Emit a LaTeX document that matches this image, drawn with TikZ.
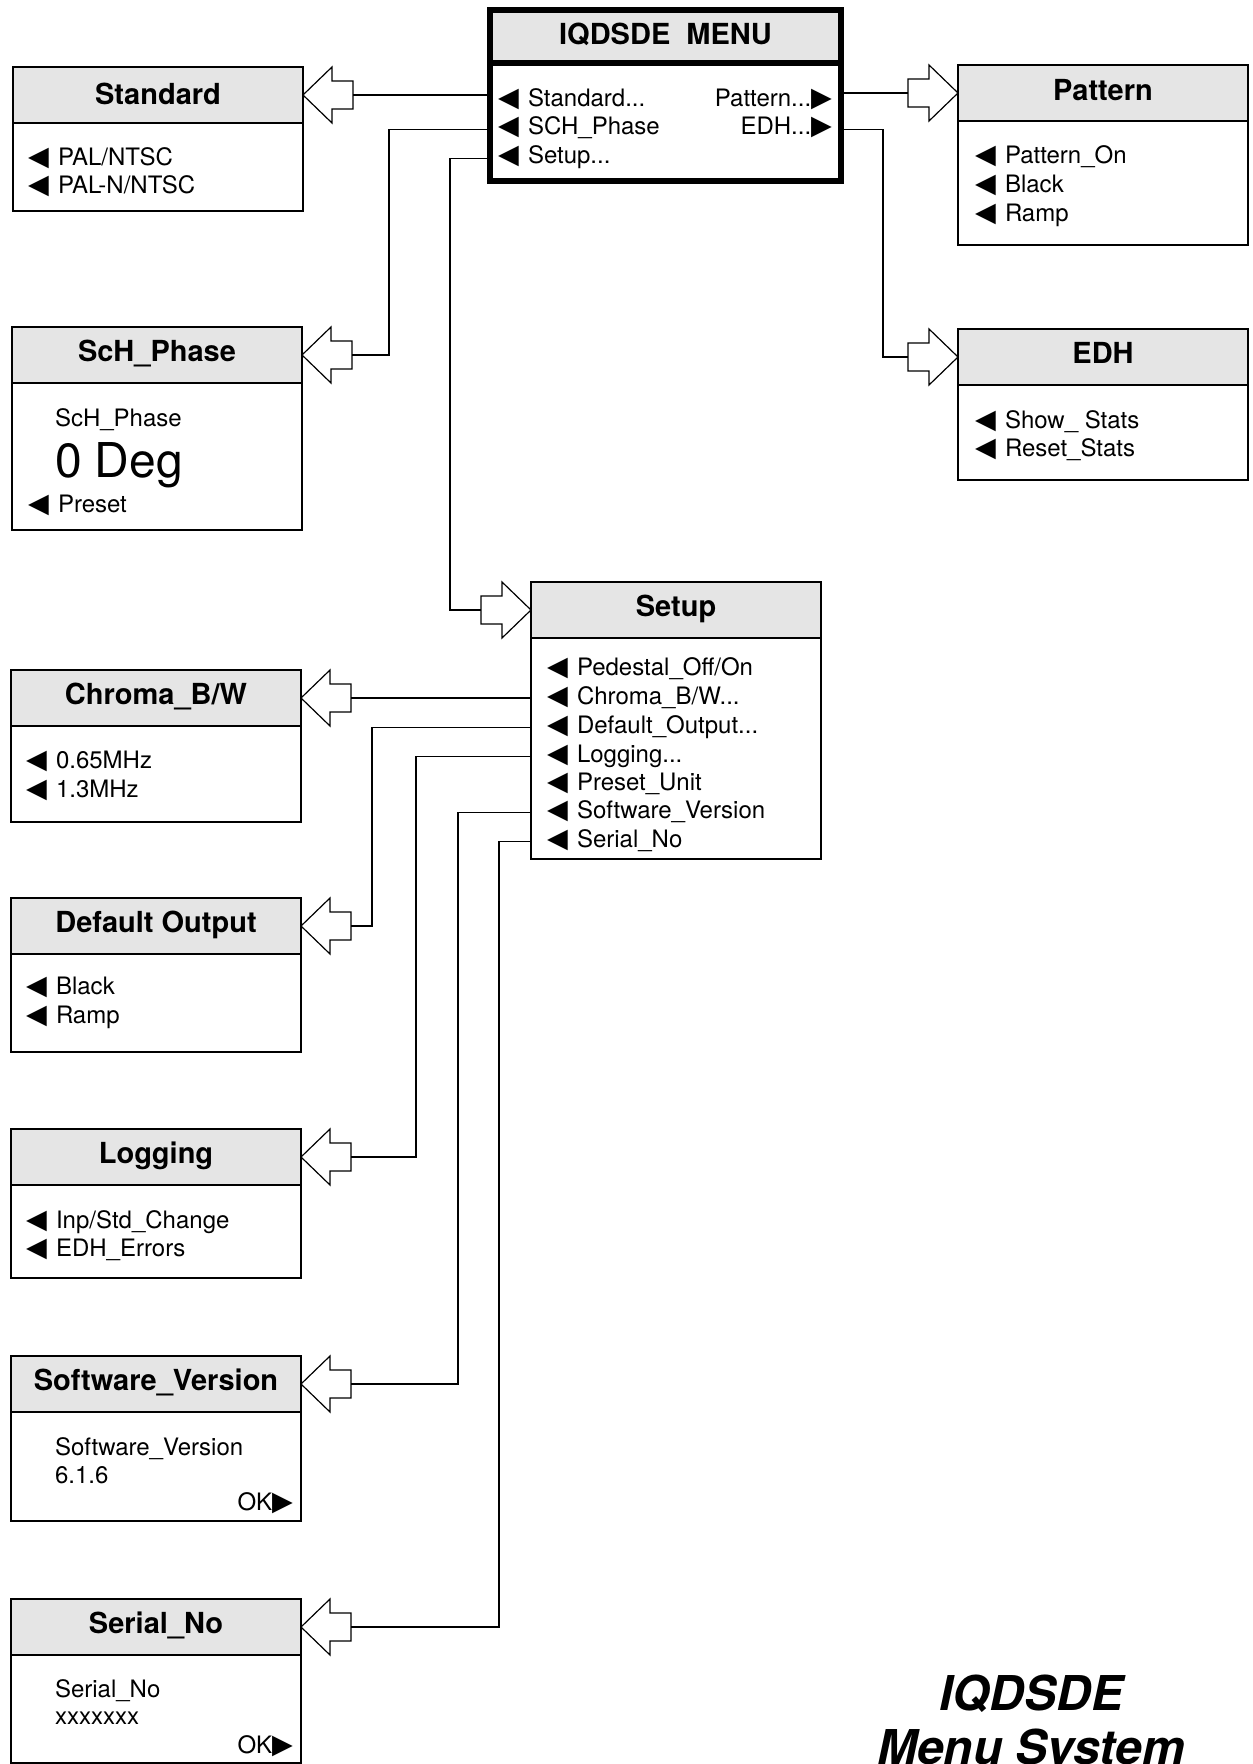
\documentclass[tikz,border=0pt]{standalone}
\usepackage{fontspec}
\usepackage{tikz}
\setmainfont{TeX Gyre Heros}
\newfontfamily\symfont{DejaVu Sans}

\newcommand{\headfont}{\fontsize{14.5}{17}\selectfont\bfseries}
\newcommand{\rowfont}{\fontsize{12}{14}\selectfont}
\newcommand{\titlefont}{\fontsize{24}{29}\selectfont\bfseries\itshape}
\newcommand{\menuL}{\makebox[15pt][l]{\symfont\fontsize{13.5}{13.5}\selectfont ◀}}
\newcommand{\menuR}{{\symfont\fontsize{13.5}{13.5}\selectfont ▶}}

\tikzset{
  inarrow/.pic={
    \draw[fill=white, line width=0.6pt] (0,0) -- (29,-28) -- (29,-14) -- (50,-14)
      -- (50,14) -- (29,14) -- (29,28) -- cycle;
    \coordinate (-tail) at (50,0);
  }
}

\begin{document}
\begin{tikzpicture}[
		x=0.5pt, y=-0.5pt,
		every node/.style={inner sep=0pt, outer sep=0pt},
		head/.style={draw, line width=0.6pt, fill=black!10, anchor=north west,
			minimum width=145pt, minimum height=28pt, font=\headfont,
			text height=10.4pt, text depth=4pt},
		body/.style={draw, line width=0.6pt, anchor=north west, minimum width=145pt},
		row/.style={anchor=base west, font=\rowfont},
		rrow/.style={anchor=base east, font=\rowfont},
		link/.style={line width=0.6pt}
	]
  \useasboundingbox (0,0) rectangle (1252,1764);

  \node (menu-h) [head, line width=2.6pt, minimum width=175.5pt, minimum height=26.5pt, text depth=2pt] at (490,10) {IQDSDE~~MENU};
  \node (menu-b) [body, line width=2.6pt, minimum width=175.5pt, minimum height=59pt] at (menu-h.south west) {};
  \node (m-std) [row] at (498,107) {\menuL Standard...};
  \node (m-sch) [row] at (498,135) {\menuL SCH\_Phase};
  \node (m-set) [row] at (498,164) {\menuL Setup...};
  \node (m-pat) [rrow] at (832,107) {Pattern...\menuR};
  \node (m-edh) [rrow] at (832,135) {EDH...\menuR};

  \node (std-h) [head, text depth=0.5pt] at (13,67) {Standard};
  \node (std-b) [body, minimum height=44pt] at (std-h.south west) {};
  \node (std-1) [row] at (28,166) {\menuL PAL/NTSC};
  \node (std-2) [row] at (28,194) {\menuL PAL-N/NTSC};

  \node (sch-h) [head] at (12,327) {ScH\_Phase};
  \node (sch-b) [body, minimum height=73.5pt] at (sch-h.south west) {};
  \node (sch-1) [row] at (55,427) {ScH\_Phase};
  \node (sch-2) [row, font=\fontsize{24}{28}\selectfont] at (55,478) {0 Deg};
  \node (sch-3) [row] at (28,513) {\menuL Preset};

  \node (pat-h) [head, text depth=3pt] at (958,65) {Pattern};
  \node (pat-b) [body, minimum height=62pt] at (pat-h.south west) {};
  \node (pat-1) [row] at (975,164) {\menuL Pattern\_On};
  \node (pat-2) [row] at (975,193) {\menuL Black};
  \node (pat-3) [row] at (975,222) {\menuL Ramp};

  \node (edh-h) [head] at (958,329) {EDH};
  \node (edh-b) [body, minimum height=47.5pt] at (edh-h.south west) {};
  \node (edh-1) [row] at (975,429) {\menuL Show\_ Stats};
  \node (edh-2) [row] at (975,457) {\menuL Reset\_Stats};

  \node (set-h) [head] at (531,582) {Setup};
  \node (set-b) [body, minimum height=110.5pt] at (set-h.south west) {};
  \node (s-ped) [row] at (547,675) {\menuL Pedestal\_Off/On};
  \node (s-chr) [row] at (547,704) {\menuL Chroma\_B/W...};
  \node (s-dfo) [row] at (547,733) {\menuL Default\_Output...};
  \node (s-log) [row] at (547,762) {\menuL Logging...};
  \node (s-pre) [row] at (547,790) {\menuL Preset\_Unit};
  \node (s-sw) [row] at (547,818) {\menuL Software\_Version};
  \node (s-ser) [row] at (547,847) {\menuL Serial\_No};

  \node (chr-h) [head] at (11,670) {Chroma\_B/W};
  \node (chr-b) [body, minimum height=48pt] at (chr-h.south west) {};
  \node (chr-1) [row] at (26,768) {\menuL 0.65MHz};
  \node (chr-2) [row] at (26,797) {\menuL 1.3MHz};

  \node (dfo-h) [head] at (11,898) {Default Output};
  \node (dfo-b) [body, minimum height=49pt] at (dfo-h.south west) {};
  \node (dfo-1) [row] at (26,994) {\menuL Black};
  \node (dfo-2) [row] at (26,1023) {\menuL Ramp};

  \node (log-h) [head] at (11,1129) {Logging};
  \node (log-b) [body, minimum height=46.5pt] at (log-h.south west) {};
  \node (log-1) [row] at (26,1228) {\menuL Inp/Std\_Change};
  \node (log-2) [row] at (26,1256) {\menuL EDH\_Errors};

  \node (sw-h) [head] at (11,1356) {Software\_Version};
  \node (sw-b) [body, minimum height=54.5pt] at (sw-h.south west) {};
  \node (sw-1) [row] at (55,1455) {Software\_Version};
  \node (sw-2) [row] at (55,1483) {6.1.6};
  \node (sw-ok) [rrow] at (293,1510) {OK\menuR};

  \node (ser-h) [head] at (11,1599) {Serial\_No};
  \node (ser-b) [body, minimum height=54pt] at (ser-h.south west) {};
  \node (ser-1) [row] at (55,1697) {Serial\_No};
  \node (ser-2) [row] at (55,1724) {xxxxxxx};
  \node (ser-ok) [rrow] at (293,1753) {OK\menuR};

  \node (title-1) [anchor=base, font=\titlefont] at (1031,1710) {IQDSDE};
  \node (title-2) [anchor=base, font=\titlefont] at (1031,1764) {Menu System};

  \coordinate (bend-sch) at (389,0);
  \coordinate (bend-set) at (450,0);
  \coordinate (bend-edh) at (883,0);
  \coordinate (bend-dfo) at (372,0);
  \coordinate (bend-log) at (416,0);
  \coordinate (bend-sw) at (458,0);
  \coordinate (bend-ser) at (499,0);

  \pic (a-std) at (std-h.east) {inarrow};
  \pic (a-sch) at (sch-h.east) {inarrow};
  \pic [xscale=-1] (a-pat) at (pat-h.west) {inarrow};
  \pic [xscale=-1] (a-edh) at (edh-h.west) {inarrow};
  \pic [xscale=-1] (a-set) at (set-h.west) {inarrow};
  \pic (a-chr) at (chr-h.east) {inarrow};
  \pic (a-dfo) at (dfo-h.east) {inarrow};
  \pic (a-log) at (log-h.east) {inarrow};
  \pic (a-sw) at (sw-h.east) {inarrow};
  \pic (a-ser) at (ser-h.east) {inarrow};

  \draw[link] (a-std-tail) -- (a-std-tail -| menu-b.west);
  \draw[link] (menu-b.west |- m-sch.mid) -| (bend-sch |- a-sch-tail) -- (a-sch-tail);
  \draw[link] (menu-b.west |- m-set.mid) -| (bend-set |- a-set-tail) -- (a-set-tail);
  \draw[link] (a-pat-tail) -- (a-pat-tail -| menu-b.east);
  \draw[link] (menu-b.east |- m-edh.mid) -| (bend-edh |- a-edh-tail) -- (a-edh-tail);
  \draw[link] (a-chr-tail) -- (a-chr-tail -| set-b.west);
  \draw[link] (set-b.west |- s-dfo.mid) -| (bend-dfo |- a-dfo-tail) -- (a-dfo-tail);
  \draw[link] (set-b.west |- s-log.mid) -| (bend-log |- a-log-tail) -- (a-log-tail);
  \draw[link] (set-b.west |- s-sw.mid) -| (bend-sw |- a-sw-tail) -- (a-sw-tail);
  \draw[link] (set-b.west |- s-ser.mid) -| (bend-ser |- a-ser-tail) -- (a-ser-tail);
\end{tikzpicture}
\end{document}
